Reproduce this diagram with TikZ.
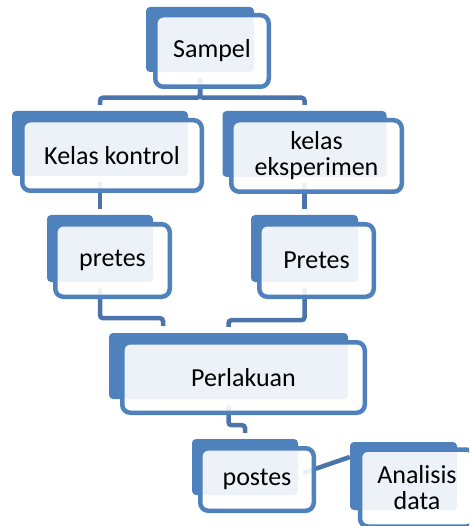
\documentclass[tikz,border=0pt]{standalone}
\usepackage{fontspec}
\setmainfont{Carlito}
\usetikzlibrary{positioning}
\definecolor{boxblue}{HTML}{4F81BD}
\definecolor{linkblue}{HTML}{4A74AA}

\begin{document}
\begin{tikzpicture}[x=1pt,y=-1pt,
   back/.style={fill=boxblue,rounded corners=4pt,inner sep=0pt},
   front/.style={draw=boxblue,line width=4.5pt,fill=white,fill opacity=0.9,
      text opacity=1,rounded corners=8pt,align=center,inner sep=0pt,
      font=\fontsize{26}{26}\selectfont},
   link/.style={draw=linkblue,line width=4.5pt,rounded corners=3pt}]
   \useasboundingbox (0,0) rectangle (469,526);
   \clip (0,0) rectangle (469,526);
   % back tabs
   \node[back,minimum width=108pt,minimum height=65pt] (sampel) at (200,39.5) {};
   \node[back,minimum width=176pt,minimum height=65pt] (kontrol) at (100,143.5) {};
   \node[back,minimum width=164pt,minimum height=66pt] (eksperimen) at (304.5,144) {};
   \node[back,minimum width=106pt,minimum height=67pt] (pretesA) at (100,248.5) {};
   \node[back,minimum width=107pt,minimum height=67pt] (pretesB) at (304.5,248.5) {};
   \node[back,minimum width=239pt,minimum height=66pt] (perlakuan) at (228.5,366) {};
   \node[back,minimum width=106pt,minimum height=56pt] (postes) at (245,467) {};
   \node[back,minimum width=107pt,minimum height=68pt] (analisis) at (403.5,476) {};
   % connectors
   \draw[link] ([yshift=-6pt]sampel.south) -- ++(0,19.5) -| ([yshift=6pt]kontrol.north);
   \draw[link] ([yshift=-6pt]sampel.south) -- ++(0,19.5) -| ([yshift=6pt]eksperimen.north);
   \draw[link] ([yshift=-6pt]kontrol.south) -- ([yshift=6pt]pretesA.north);
   \draw[link] ([yshift=-6pt]eksperimen.south) -- ([yshift=6pt]pretesB.north);
   \draw[link] ([yshift=-6pt]pretesA.south) -- ++(0,30) -| ([xshift=-65.5pt,yshift=7pt]perlakuan.north);
   \draw[link] ([yshift=-6pt]pretesB.south) -- ++(0,32) -| ([yshift=6pt]perlakuan.north);
   \draw[link] ([yshift=-6pt]perlakuan.south) -- ++(0,20) -| ([yshift=6pt]postes.north);
   \draw[link,rounded corners=0pt] ([xshift=5pt,yshift=-6pt]postes.east) -- ([yshift=19pt]analisis.west);
   % front boxes
   \node[front,minimum width=113.5pt,minimum height=71.5pt] (sampelF) at (212,51) {Sampel};
   \node[front,minimum width=179.5pt,minimum height=70.5pt] (kontrolF) at (112,155.5) {Kelas kontrol};
   \node[front,minimum width=170.5pt,minimum height=71.5pt] (eksperimenF) at (316.5,156) {kelas\\eksperimen};
   \node[front,minimum width=114.5pt,minimum height=72.5pt] (pretesAF) at (112.5,260.5) {pretes};
   \node[front,minimum width=114.5pt,minimum height=72.5pt] (pretesBF) at (316.5,260.5) {Pretes};
   \node[front,minimum width=242.5pt,minimum height=70.5pt] (perlakuanF) at (243.5,377.5) {Perlakuan};
   \node[front,minimum width=113.5pt,minimum height=62.5pt] (postesF) at (257,479.5) {postes};
   \node[front,minimum width=114pt,minimum height=77pt] (analisisF) at (417,488) {Analisis\\data};
\end{tikzpicture}
\end{document}
